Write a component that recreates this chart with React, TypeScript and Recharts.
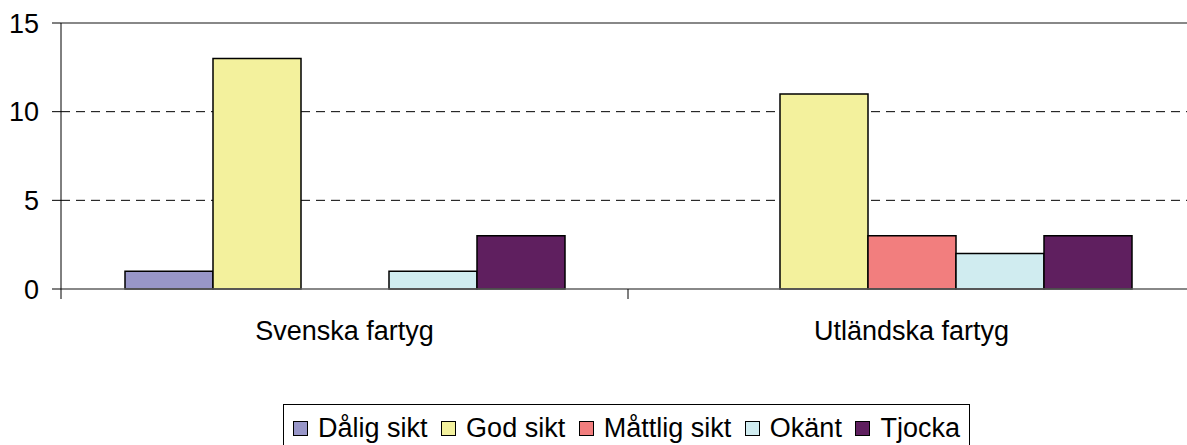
import React from "react";
import {
  Bar,
  BarChart,
  CartesianGrid,
  Legend,
  ReferenceLine,
  XAxis,
  YAxis,
} from "recharts";

const categories = ["Svenska fartyg", "Utländska fartyg"];
const daligSikt = [1, 0];
const godSikt = [13, 11];
const mattligSikt = [0, 3];
const okant = [1, 2];
const tjocka = [3, 3];
const yTicks = [0, 5, 10, 15];

const series = [
  { key: "dalig", name: "Dålig sikt", values: daligSikt, color: "#9896C8" },
  { key: "god", name: "God sikt", values: godSikt, color: "#F3F19D" },
  { key: "mattlig", name: "Måttlig sikt", values: mattligSikt, color: "#F27E7E" },
  { key: "okant", name: "Okänt", values: okant, color: "#D0ECF0" },
  { key: "tjocka", name: "Tjocka", values: tjocka, color: "#5F1F5F" },
];

const data = categories.map((cat, i) => {
  const row: Record<string, string | number> = { cat };
  series.forEach((s) => (row[s.key] = s.values[i]));
  return row;
});

const FONT = "'Liberation Sans', Arial, sans-serif";
const W = 1200;
const H = 445;
const PLOT_LEFT = 61;
const PLOT_RIGHT = 1195;
const PLOT_TOP = 23;
const PLOT_BOTTOM = 289;
const BAND = (PLOT_RIGHT - PLOT_LEFT) / categories.length;

function XTick(props: any) {
  const { x, payload, index } = props;
  const half = BAND / 2;
  return (
    <g>
      <line x1={x + half} y1={PLOT_BOTTOM} x2={x + half} y2={PLOT_BOTTOM + 10} stroke="#000" />
      {index === 0 && (
        <line x1={x - half} y1={PLOT_BOTTOM} x2={x - half} y2={PLOT_BOTTOM + 10} stroke="#000" />
      )}
      <text x={x} y={PLOT_BOTTOM + 51} textAnchor="middle" fontSize={27} fontFamily={FONT} fill="#000">
        {payload.value}
      </text>
    </g>
  );
}

function LegendBox() {
  return (
    <div
      style={{
        boxSizing: "border-box",
        width: "100%",
        height: "100%",
        border: "1px solid #000",
        display: "flex",
        justifyContent: "space-between",
        alignItems: "flex-start",
        padding: "8px 9px 0 9px",
        fontFamily: FONT,
        fontSize: 27,
        color: "#000",
        background: "#fff",
      }}
    >
      {series.map((s) => (
        <div key={s.key} style={{ display: "flex", alignItems: "center", lineHeight: "30px" }}>
          <span
            style={{
              display: "inline-block",
              boxSizing: "border-box",
              width: 15,
              height: 15,
              background: s.color,
              border: "1.5px solid #000",
              marginRight: 10,
            }}
          />
          <span>{s.name}</span>
        </div>
      ))}
    </div>
  );
}

export default function App() {
  return (
    <div
      style={{
        position: "absolute",
        left: 0,
        top: 0,
        width: 1187,
        height: 445,
        overflow: "hidden",
        background: "#fff",
        fontFamily: FONT,
      }}
    >
      <BarChart
        width={W}
        height={H}
        data={data}
        margin={{ top: PLOT_TOP, right: W - PLOT_RIGHT, left: 0, bottom: H - PLOT_BOTTOM - 60 }}
        barCategoryGap={64}
        barGap={0}
      >
        <CartesianGrid
          vertical={false}
          horizontalValues={[5, 10]}
          stroke="#000"
          strokeDasharray="9 6"
        />
        <XAxis
          dataKey="cat"
          height={60}
          tickLine={false}
          axisLine={{ stroke: "#606060", strokeWidth: 1.5 }}
          tick={<XTick />}
          interval={0}
        />
        <YAxis
          width={PLOT_LEFT}
          domain={[0, 15]}
          ticks={yTicks}
          tickSize={9}
          tickMargin={13}
          tickLine={{ stroke: "#000" }}
          axisLine={{ stroke: "#000" }}
          tick={{ fill: "#000", fontSize: 27, fontFamily: FONT }}
          interval={0}
        />
        <ReferenceLine y={15} stroke="#888" strokeWidth={2} />
        {series.map((s) => (
          <Bar
            key={s.key}
            dataKey={s.key}
            name={s.name}
            fill={s.color}
            stroke="#000"
            strokeWidth={1.5}
            isAnimationActive={false}
          />
        ))}
        <Legend
          layout="vertical"
          align="center"
          verticalAlign="middle"
          wrapperStyle={{ left: 283, top: 404, width: 687, height: 60 }}
          content={<LegendBox />}
        />
      </BarChart>
    </div>
  );
}
